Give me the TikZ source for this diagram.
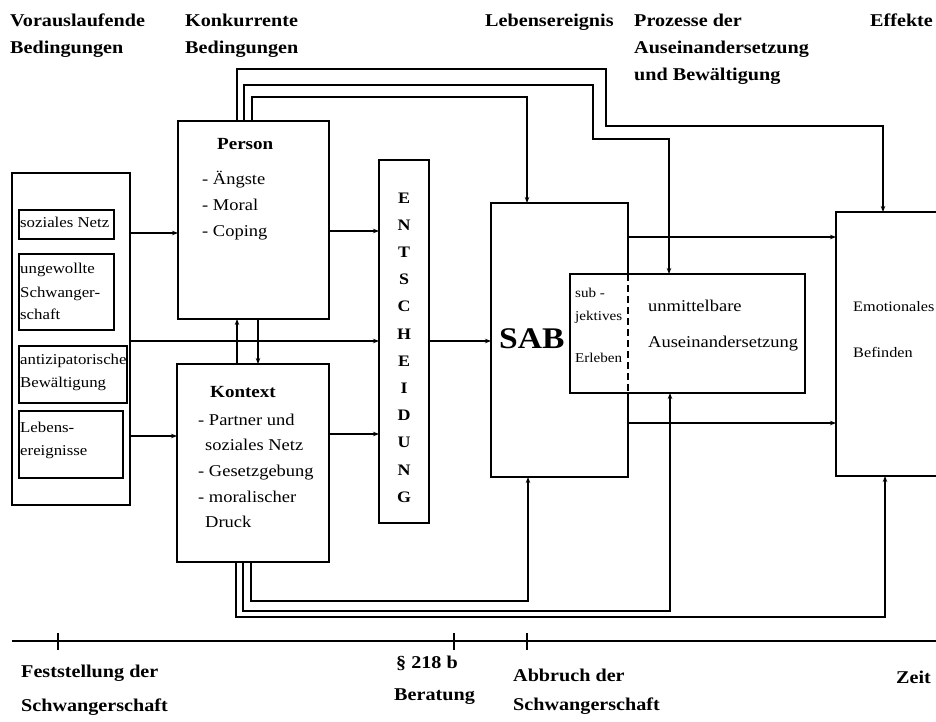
\documentclass[tikz,border=0pt]{standalone}
\usepackage{fontspec}
\setmainfont{Liberation Serif}[FakeStretch=1.12]
\usetikzlibrary{arrows.meta}
\begin{document}
\begin{tikzpicture}[x=1pt,y=-1pt,
  box/.style={draw, line width=2.4pt, inner sep=0pt, outer sep=0pt},
  ibox/.style={draw, line width=1.4pt, inner sep=0pt, outer sep=0pt},
  con/.style={line width=1.1pt},
  arr/.style={con, -{Stealth[length=6pt,width=4.5pt]}},
  lbl/.style={inner sep=0pt, anchor=base west},
  hd/.style={lbl, font=\fontsize{18}{20}\selectfont\bfseries},
  tx/.style={lbl, font=\fontsize{16.5}{18}\selectfont},
  tb/.style={lbl, font=\fontsize{17}{19}\selectfont\bfseries},
  sm/.style={lbl, font=\fontsize{15}{17}\selectfont},
  xs/.style={lbl, font=\fontsize{13.5}{15}\selectfont},
  em/.style={lbl, font=\fontsize{14.5}{16}\selectfont},
  lt/.style={inner sep=0pt, anchor=base, font=\fontsize{16}{18}\selectfont\bfseries},
]
\clip (0,0) rectangle (936,722);
\fill[white] (0,0) rectangle (936,722);

% headers
\node[hd] (h1a) at (10,27) {Vorauslaufende};
\node[hd] (h1b) at (10,54) {Bedingungen};
\node[hd] (h2a) at (185,27) {Konkurrente};
\node[hd] (h2b) at (185,54) {Bedingungen};
\node[hd] (h3) at (485,27) {Lebensereignis};
\node[hd] (h4a) at (634,27) {Prozesse der};
\node[hd] (h4b) at (634,54) {Auseinandersetzung};
\node[hd] (h4c) at (634,81) {und Bewältigung};
\node[hd] (h5) at (870,27) {Effekte};

% left column
\node[box, minimum width=118, minimum height=332] (outer) at (71,339) {};
\node[ibox, minimum width=95, minimum height=29] (sn) at (66.5,224.5) {};
\node[ibox, minimum width=95, minimum height=76] (us) at (66.5,292) {};
\node[ibox, minimum width=108, minimum height=57] (ab) at (73,374.5) {};
\node[ibox, minimum width=104, minimum height=67] (le) at (71,444.5) {};
\node[sm] (snt) at (20,227) {soziales Netz};
\node[sm] (ust1) at (20,273) {ungewollte};
\node[sm] (ust2) at (20,297) {Schwanger-};
\node[sm] (ust3) at (20,319) {schaft};
\node[sm] (abt1) at (20,364) {antizipatorische};
\node[sm] (abt2) at (20,387) {Bewältigung};
\node[sm] (let1) at (20,432) {Lebens-};
\node[sm] (let2) at (20,455) {ereignisse};

% person / kontext
\node[box, minimum width=151, minimum height=198] (person) at (253.5,220) {};
\node[box, minimum width=152, minimum height=198] (kontext) at (253,463) {};
\node[tb] (pt0) at (217,150) {Person};
\node[tx] (pt1) at (202,184) {- Ängste};
\node[tx] (pt2) at (202,210) {- Moral};
\node[tx] (pt3) at (202,236) {- Coping};
\node[tb] (kt0) at (210,397) {Kontext};
\node[tx] (kt1) at (198,425) {- Partner und};
\node[tx] (kt2) at (205,450) {soziales Netz};
\node[tx] (kt3) at (198,476) {- Gesetzgebung};
\node[tx] (kt4) at (198,502) {- moralischer};
\node[tx] (kt5) at (205,527) {Druck};

% Entscheidung
\node[box, minimum width=50, minimum height=363] (ent) at (404,341.5) {};
\foreach \l [count=\i] in {E,N,T,S,C,H,E,I,D,U,N,G}
  \node[lt] (L\i) at (404,{203+27.2*(\i-1)}) {\l};

% SAB and inner box
\node[box, minimum width=137, minimum height=274] (sab) at (559.5,340) {};
\node[inner sep=0pt, anchor=base west, font=\fontsize{30}{32}\selectfont\bfseries] (sabt) at (499,348) {SAB};
\node[box, fill=white, minimum width=235, minimum height=119] (ua) at (687.5,333.5) {};
\draw[line width=1.8pt, dash pattern=on 7pt off 4pt] (sab.east |- ua.north) -- (sab.east |- ua.south);
\node[xs] (ua1) at (575,297) {sub -};
\node[xs] (ua2) at (575,320) {jektives};
\node[xs] (ua3) at (575,362) {Erleben};
\node[tx] (ua4) at (648,311) {unmittelbare};
\node[tx] (ua5) at (648,347) {Auseinandersetzung};

% Emotionales Befinden
\node[box, minimum width=144, minimum height=264] (emot) at (908,344) {};
\node[em] (em1) at (853,311) {Emotionales};
\node[em] (em2) at (853,357) {Befinden};

% connectors
\draw[arr] (outer.east |- 0,233) -- (person.west |- 0,233);
\draw[arr] (outer.east |- 0,341) -- (ent.west |- 0,341);
\draw[arr] (outer.east |- 0,436) -- (kontext.west |- 0,436);
\draw[arr] (person.east |- 0,231) -- (ent.west |- 0,231);
\draw[arr] (kontext.east |- 0,434) -- (ent.west |- 0,434);
\draw[arr] (ent.east |- 0,341) -- (sab.west |- 0,341);
\draw[arr] (kontext.north -| 237,0) -- (person.south -| 237,0);
\draw[arr] (person.south -| 258,0) -- (kontext.north -| 258,0);
\draw[arr] (person.north -| 237,0) |- (606,69) |- (883,126) -- (emot.north -| 883,0);
\draw[arr] (person.north -| 244,0) |- (593,85) |- (669,139) -- (ua.north -| 669,0);
\draw[arr] (person.north -| 252,0) |- (527,97) -- (sab.north -| 527,0);
\draw[arr] (sab.east |- 0,237) -- (emot.west |- 0,237);
\draw[arr] (sab.east |- 0,423) -- (emot.west |- 0,423);
\draw[arr] (kontext.south -| 251,0) |- (528,601) -- (sab.south -| 528,0);
\draw[arr] (kontext.south -| 243,0) |- (670,611) -- (ua.south -| 670,0);
\draw[arr] (kontext.south -| 236,0) |- (885,617) -- (emot.south -| 885,0);

% timeline
\coordinate (tl0) at (12,641);
\coordinate (tl1) at (940,641);
\draw[line width=2pt] (tl0) -- (tl1);
\draw[line width=1.6pt] (58,633) -- (58,650);
\draw[line width=1.6pt] (454,633) -- (454,650);
\draw[line width=1.6pt] (527,633) -- (527,650);
\node[hd] (b1a) at (21,677) {Feststellung der};
\node[hd] (b1b) at (21,711) {Schwangerschaft};
\node[hd] (b2a) at (396,668) {§ 218 b};
\node[hd] (b2b) at (394,700) {Beratung};
\node[hd] (b3a) at (513,681) {Abbruch der};
\node[hd] (b3b) at (513,710) {Schwangerschaft};
\node[hd] (b4) at (896,683) {Zeit};
\end{tikzpicture}
\end{document}
